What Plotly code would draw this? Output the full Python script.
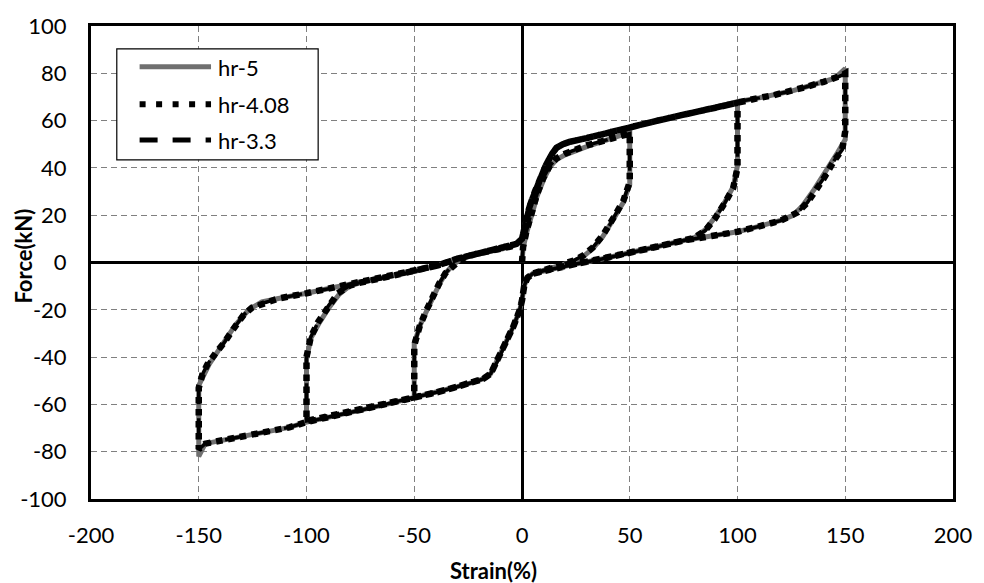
import plotly.graph_objects as go

# ---------------- data ----------------
strain_hr5 = [
    0, 0.5, 2, 4, 7, 10, 13, 16, 20, 30, 40, 50,
    50, 47, 43.5, 40.5, 37.5, 33, 28.5, 24, 18, 15, 10, 5,
    2.5, 1, 0, -1, -4, -8, -11.5, -14.5, -18, -22, -30, -40, -50,
    -50, -47, -44, -41, -38, -35, -32, -28, -21, -14, -9, -5, -2.5, 0,
    1, 2, 4, 6, 8, 11, 14, 16, 19, 22, 30, 40, 50, 62, 75, 88, 100,
    100, 98, 94, 89.5, 85, 80, 75, 62, 50, 37, 25, 15, 10, 5,
    2.5, 1, 0, -1, -4, -8, -11.5, -14.5, -18, -22, -30, -40, -50, -62, -75, -88, -100,
    -100, -98, -94, -89.5, -85, -80, -75, -62, -50, -39, -30, -21, -14, -9, -5, -2.5, 0,
    1, 2, 4, 6, 8, 11, 14, 16, 19, 22, 30, 40, 50, 62, 75, 88, 100, 110, 117, 125, 132, 140, 145, 150,
    150, 146.3, 141.7, 135.6, 130.2, 125.6, 120, 117, 110, 100, 88, 75, 62, 50, 37, 25, 15, 10, 5,
    2.5, 1, 0, -1, -4, -8, -11.5, -14.5, -18, -22, -30, -40, -50, -62, -75, -88, -100, -108, -124, -136, -147, -150,
    -150, -145.2, -139.1, -132.9, -126.8, -120.7, -113, -108, -100, -88, -75, -62, -50, -39, -30, -21, -14, -9, -5, -2.5, 0,
]
force_hr5 = [
    0, 6, 12, 19, 28, 35, 40.5, 43.5, 45.5, 49, 52, 55,
    33, 25.4, 20, 15, 11, 6, 2.6, 0.5, -1.2, -1.9, -3.3, -4.7,
    -6.5, -10, -16, -20, -27, -35, -42, -47, -49.2, -50.5, -52.5, -55, -57,
    -34, -26, -20, -14, -8.5, -4, -1, 1.8, 3.7, 4.8, 5.8, 6.8, 7.9, 10,
    14, 19, 25, 30, 35, 41, 46, 48.5, 50, 51, 52.6, 55, 57, 59.8, 62.5, 65.3, 68,
    41, 32, 25.4, 19, 13.8, 10.5, 9.3, 6.5, 4, 1.5, -0.6, -2.4, -3.5, -4.7,
    -6.5, -10, -16, -20, -27, -35, -42, -47, -49.2, -50.5, -52.5, -55, -57, -59.8, -62.5, -65, -67.5,
    -41, -32, -25.4, -19, -13.6, -10, -8.5, -6, -3.8, -1.2, 1.6, 3.7, 4.8, 5.8, 6.8, 7.9, 10,
    14, 19, 25, 30, 35, 41, 46, 48.5, 50, 51, 52.6, 55, 57, 59.8, 62.5, 65.3, 68, 69.6, 70.8, 72.5, 74.3, 76.4, 77.8, 82,
    52, 46.3, 39.3, 30.9, 24, 19.8, 17.8, 17, 15.3, 13, 11.2, 9.3, 6.5, 4, 1.5, -0.6, -2.4, -3.5, -4.7,
    -6.5, -10, -16, -20, -27, -35, -42, -47, -49.2, -50.5, -52.5, -55, -57, -59.8, -62.5, -65, -67.5, -69.7, -72.5, -74.5, -76.6, -82,
    -52, -43.1, -34.7, -26.3, -20, -16.6, -15.2, -14.5, -13, -10.7, -8.5, -6, -3.8, -1.2, 1.6, 3.7, 4.8, 5.8, 6.8, 7.9, 10,
]

strain_hr408 = [
    0, 0.5, 2, 4, 7, 10, 13, 16, 20, 30, 40, 50,
    50, 47, 43.5, 40.5, 37.5, 33, 28.5, 24, 18, 15, 10, 5,
    2.5, 1, 0, -1, -4, -8, -11.5, -14.5, -18, -22, -30, -40, -50,
    -50, -47.5, -44.5, -41.5, -38.5, -35.5, -32, -28, -21, -14, -9, -5, -2.5, 0,
    1, 2, 4, 6, 8, 11, 14, 16, 19, 22, 30, 40, 50, 62, 75, 88, 100,
    100, 98, 94, 89.5, 85, 80, 75, 62, 50, 37, 25, 15, 10, 5,
    2.5, 1, 0, -1, -4, -8, -11.5, -14.5, -18, -22, -30, -40, -50, -62, -75, -88, -100,
    -100, -98, -94.5, -90, -85.5, -80, -75, -62, -50, -39, -30, -21, -14, -9, -5, -2.5, 0,
    1, 2, 4, 6, 8, 11, 14, 16, 19, 22, 30, 40, 50, 62, 75, 88, 100, 110, 117, 125, 132, 140, 145, 148, 150,
    150, 148.6, 144.8, 140.2, 137, 132.5, 127.9, 120, 110, 100, 88, 75, 62, 50, 37, 25, 15, 10, 5,
    2.5, 1, 0, -1, -4, -8, -11.5, -14.5, -18, -22, -30, -40, -50, -62, -75, -88, -100, -108, -124, -136, -147, -150,
    -150, -148.3, -146, -142.1, -138.3, -133.7, -129.1, -125.3, -119.1, -113, -100, -88, -75, -62, -50, -39, -30, -21, -14, -9, -5, -2.5, 0,
]
force_hr408 = [
    0, 6.5, 13, 20, 29, 36, 41, 44, 46, 49.5, 52, 54.5,
    34, 26, 20.5, 15.5, 11.5, 6.5, 3, 0.8, -1, -1.9, -3.3, -4.7,
    -6.5, -10, -16, -20, -27, -35, -42, -47, -49.2, -50.5, -52.5, -55, -57,
    -35, -27, -20.5, -14.5, -9, -4.5, -1.2, 1.6, 3.7, 4.8, 5.8, 6.8, 7.9, 10,
    14, 19, 25, 30, 35, 41, 46, 48.5, 50, 51, 52.6, 55, 57, 59.8, 62.5, 65.3, 67.5,
    40, 31.5, 25, 18.5, 13.5, 10.5, 9.3, 6.5, 4, 1.5, -0.6, -2.4, -3.5, -4.7,
    -6.5, -10, -16, -20, -27, -35, -42, -47, -49.2, -50.5, -52.5, -55, -57, -59.8, -62.5, -65, -67,
    -40, -31.5, -25, -18.5, -13, -9.8, -8.5, -6, -3.8, -1.2, 1.6, 3.7, 4.8, 5.8, 6.8, 7.9, 10,
    14, 19, 25, 30, 35, 41, 46, 48.5, 50, 51, 52.6, 55, 57, 59.8, 62.5, 65.3, 68, 69.6, 70.8, 72.5, 74.3, 76.4, 77.8, 79, 80,
    55.5, 47.7, 43, 35.8, 31.7, 25.4, 21.2, 17.7, 15.3, 13, 11.2, 9.3, 6.5, 4, 1.5, -0.6, -2.4, -3.5, -4.7,
    -6.5, -10, -16, -20, -27, -35, -42, -47, -49.2, -50.5, -52.5, -55, -57, -59.8, -62.5, -65, -67.5, -69.7, -72.5, -74.5, -76.6, -79,
    -53, -47.3, -43.1, -38.2, -34, -27.8, -22.1, -19.1, -16.9, -15.2, -13, -10.7, -8.5, -6, -3.8, -1.2, 1.6, 3.7, 4.8, 5.8, 6.8, 7.9, 10,
]

strain_hr33 = list(strain_hr408)
force_hr33 = list(force_hr408)

series_names = ["hr-5", "hr-4.08", "hr-3.3"]

x_ticks = [-200, -150, -100, -50, 0, 50, 100, 150, 200]
y_ticks = [-100, -80, -60, -40, -20, 0, 20, 40, 60, 80, 100]

# ---------------- layout helpers (pixel -> paper) ----------------
PL, PR, PT, PB = 91, 960, 22, 499
def px(xp):
    return (xp - PL) / (PR - PL)
def py(yp):
    return (PB - yp) / (PB - PT)

FONT = "Lato, 'Open Sans', Arial, sans-serif"

fig = go.Figure()
fig.add_trace(go.Scatter(x=strain_hr5, y=force_hr5, mode="lines", name=series_names[0],
                         line=dict(color="#707070", width=5), showlegend=False))
fig.add_trace(go.Scatter(x=strain_hr33, y=force_hr33, mode="lines", name=series_names[2],
                         line=dict(color="black", width=3.5, dash="16px,14px"), showlegend=False))
fig.add_trace(go.Scatter(x=strain_hr408, y=force_hr408, mode="lines", name=series_names[1],
                         line=dict(color="black", width=6.5, dash="6.5px,5.5px"), showlegend=False))

axis_common = dict(
    showgrid=True, gridcolor="#808080", gridwidth=1, griddash="6px,4px",
    zeroline=True, zerolinecolor="black", zerolinewidth=3,
    showline=True, linecolor="black", linewidth=3, mirror=True,
    ticks="", tickfont=dict(family=FONT, size=22, color="black"),
)
fig.update_xaxes(range=[-200, 200], tickvals=x_ticks, ticktext=[str(v) for v in x_ticks],
                 ticklabelstandoff=15, **axis_common)
fig.update_yaxes(range=[-100, 100], tickvals=y_ticks, ticktext=[str(v) for v in y_ticks],
                 ticklabelstandoff=17, **axis_common)

shapes = [
    dict(type="rect", xref="paper", yref="paper", x0=px(117), x1=px(320), y0=py(45), y1=py(157),
         line=dict(color="black", width=1.2), fillcolor="white", layer="above"),
    dict(type="line", xref="paper", yref="paper", x0=px(140), x1=px(212), y0=py(63), y1=py(63),
         line=dict(color="#707070", width=5)),
    dict(type="line", xref="paper", yref="paper", x0=px(140), x1=px(212), y0=py(101), y1=py(101),
         line=dict(color="black", width=6, dash="6px,10.5px")),
    dict(type="line", xref="paper", yref="paper", x0=px(140), x1=px(212), y0=py(137), y1=py(137),
         line=dict(color="black", width=5, dash="18px,15px")),
]
annotations = [
    dict(text=series_names[0], x=px(217), y=py(64), xref="paper", yref="paper", xanchor="left",
         yanchor="middle", showarrow=False, font=dict(family=FONT, size=22, color="black")),
    dict(text=series_names[1], x=px(217), y=py(101), xref="paper", yref="paper", xanchor="left",
         yanchor="middle", showarrow=False, font=dict(family=FONT, size=22, color="black")),
    dict(text=series_names[2], x=px(217), y=py(137), xref="paper", yref="paper", xanchor="left",
         yanchor="middle", showarrow=False, font=dict(family=FONT, size=22, color="black")),
    dict(text="<b>Strain(%)</b>", x=px(497), y=py(571), xref="paper", yref="paper",
         xanchor="center", yanchor="middle", showarrow=False,
         font=dict(family=FONT, size=22, color="black")),
    dict(text="<b>Force(kN)</b>", x=px(22), y=py(254), xref="paper", yref="paper",
         xanchor="center", yanchor="middle", showarrow=False, textangle=-90,
         font=dict(family=FONT, size=22, color="black")),
]

fig.update_layout(
    width=984, height=583,
    margin=dict(l=PL, r=984 - PR, t=PT, b=583 - PB),
    plot_bgcolor="white", paper_bgcolor="white",
    showlegend=False, shapes=shapes, annotations=annotations,
    font=dict(family=FONT, color="black"),
)

fig.write_html("out.html")
